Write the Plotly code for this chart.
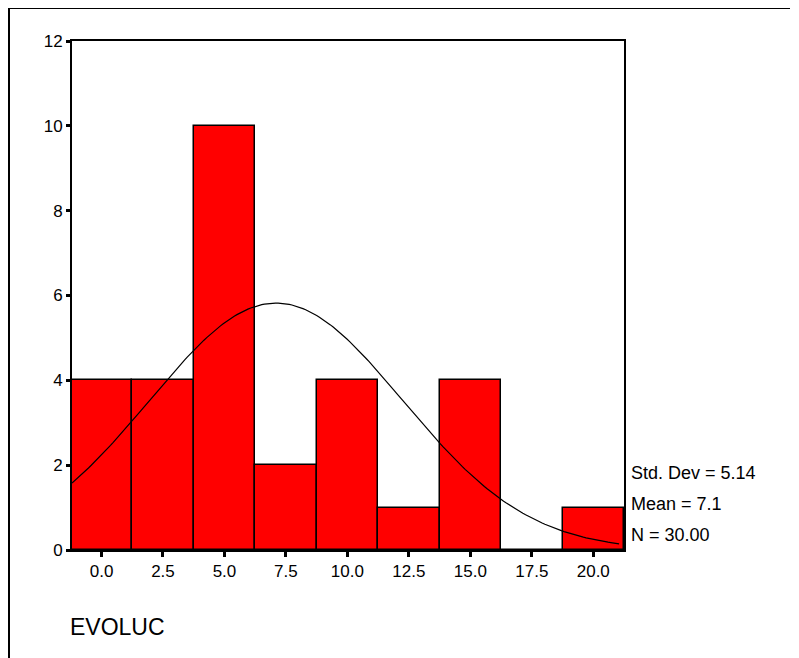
import numpy as np
import plotly.graph_objects as go

# Data
bin_centers = [0.0, 2.5, 5.0, 7.5, 10.0, 12.5, 15.0, 17.5, 20.0]
counts = [4, 4, 10, 2, 4, 1, 4, 0, 1]
tick_labels = ["0.0", "2.5", "5.0", "7.5", "10.0", "12.5", "15.0", "17.5", "20.0"]
std_dev = 5.14
mean = 7.1
n_obs = 30
bin_width = 2.5
stat_labels = ["Std. Dev = 5.14", "Mean = 7.1", "N = 30.00"]
var_name = "EVOLUC"

OFF = 8  # page body margin
W, H = 799 - OFF, 658 - OFF
L, R, T, B = 72 - OFF, 624 - OFF, 41 - OFF, 550 - OFF  # plot area in pixels

x_range = [-1.2, 21.25]
y_range = [0, 12]

fig = go.Figure()
fig.add_trace(go.Bar(
    x=bin_centers, y=counts, width=bin_width,
    marker=dict(color="#ff0000", line=dict(color="black", width=1.5)),
    hoverinfo="x+y",
))

# Fitted normal curve from the displayed statistics
xc = np.linspace(x_range[0], 21.05, 200)
yc = n_obs * bin_width / (std_dev * np.sqrt(2 * np.pi)) * np.exp(-0.5 * ((xc - mean) / std_dev) ** 2)
fig.add_trace(go.Scatter(x=xc, y=yc, mode="lines", line=dict(color="black", width=1.2), hoverinfo="skip"))

def px_x(p):
    return (p - OFF - L) / (R - L)

def px_y(p):
    return (B - (p - OFF)) / (B - T)

annotations = []
for lab, yp in zip(stat_labels, [473, 504, 535]):
    annotations.append(dict(text=lab, xref="paper", yref="paper", x=px_x(629), y=px_y(yp),
                            xanchor="left", yanchor="middle", showarrow=False,
                            font=dict(size=18, color="black", family="Liberation Sans, Arial")))
annotations.append(dict(text=var_name, xref="paper", yref="paper", x=px_x(68), y=px_y(627),
                        xanchor="left", yanchor="middle", showarrow=False,
                        font=dict(size=23, color="black", family="Liberation Sans, Arial")))

shapes = [
    dict(type="line", xref="paper", yref="paper", x0=px_x(9), x1=px_x(790), y0=px_y(8), y1=px_y(8),
         line=dict(color="black", width=2)),
    dict(type="line", xref="paper", yref="paper", x0=px_x(9), x1=px_x(9), y0=px_y(8), y1=px_y(660),
         line=dict(color="black", width=2)),
]

fig.update_layout(
    width=W, height=H,
    margin=dict(l=L, r=W - R, t=T, b=H - B, pad=0),
    paper_bgcolor="white", plot_bgcolor="white",
    showlegend=False, bargap=0,
    annotations=annotations, shapes=shapes,
    font=dict(family="Liberation Sans, Arial", color="black", size=17),
)
fig.update_xaxes(range=x_range, tickvals=bin_centers, ticktext=tick_labels,
                 ticks="outside", ticklen=5, tickwidth=3, tickcolor="black",
                 showline=True, linecolor="black", linewidth=2, mirror=True,
                 showgrid=False, zeroline=False, tickfont=dict(size=17))
fig.update_yaxes(range=y_range, tickvals=[0, 2, 4, 6, 8, 10, 12],
                 ticks="outside", ticklen=4, tickwidth=3, tickcolor="black",
                 showline=True, linecolor="black", linewidth=2, mirror=True,
                 showgrid=False, zeroline=False, tickfont=dict(size=17))

fig.write_html("out.html")
